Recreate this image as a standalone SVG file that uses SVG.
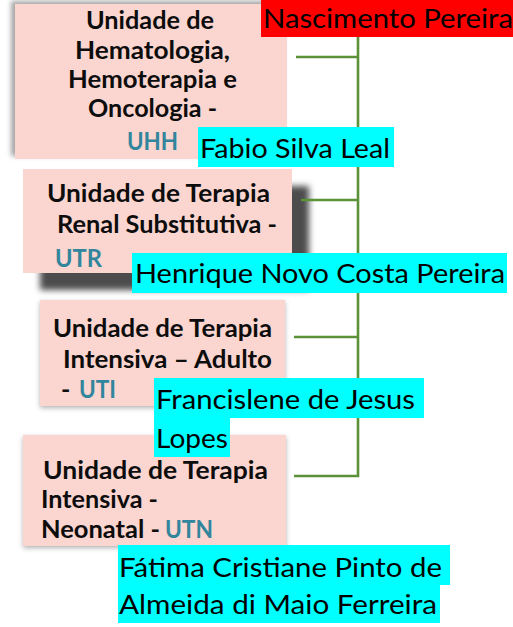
<svg xmlns="http://www.w3.org/2000/svg" width="513" height="627" viewBox="0 0 513 627">
<style>
.box{fill:#fbd5cf}
.bt{font-family:Lato,"Open Sans","Liberation Sans",sans-serif;font-weight:bold;font-size:25px;fill:#0d0d0d}
.abbr{fill:#31859c}
.lbl{font-family:Lato,"Open Sans","Liberation Sans",sans-serif;font-size:27.5px;fill:#000}
.cy{fill:#00ffff}
.conn{stroke:#5b9137;stroke-width:2.6;fill:none}
</style>
<defs>
<filter id="sh1" x="-10%" y="-10%" width="120%" height="120%"><feDropShadow dx="-4" dy="-3" stdDeviation="2.5" flood-color="#000" flood-opacity="0.35"/></filter>
<filter id="sh2" x="-10%" y="-10%" width="130%" height="140%"><feDropShadow dx="17" dy="17" stdDeviation="3" flood-color="#000" flood-opacity="0.7"/></filter>
<filter id="sh3" x="-10%" y="-10%" width="120%" height="130%"><feDropShadow dx="0" dy="2" stdDeviation="2.5" flood-color="#000" flood-opacity="0.3"/></filter>
</defs>

<g id="uhh">
<rect class="box" x="15" y="4" width="272" height="155" filter="url(#sh1)"/>
<text class="bt" x="86" y="29" textLength="128" lengthAdjust="spacingAndGlyphs">Unidade de</text>
<text class="bt" x="75" y="59" textLength="155" lengthAdjust="spacingAndGlyphs">Hematologia,</text>
<text class="bt" x="68" y="88" textLength="169" lengthAdjust="spacingAndGlyphs">Hemoterapia e</text>
<text class="bt" x="88" y="117" textLength="129" lengthAdjust="spacingAndGlyphs">Oncologia -</text>
<text class="bt abbr" x="127" y="150" textLength="51" lengthAdjust="spacingAndGlyphs">UHH</text>
</g>

<g id="utr">
<rect class="box" x="23" y="169" width="269" height="104" filter="url(#sh2)"/>
<text class="bt" x="47" y="202" textLength="223" lengthAdjust="spacingAndGlyphs">Unidade de Terapia</text>
<text class="bt" x="57" y="233" textLength="220" lengthAdjust="spacingAndGlyphs">Renal Substitutiva -</text>
<text class="bt abbr" x="55" y="267" textLength="47" lengthAdjust="spacingAndGlyphs">UTR</text>
</g>

<g id="uti">
<rect class="box" x="40" y="300" width="245" height="106" filter="url(#sh3)"/>
<text class="bt" x="53" y="337" textLength="219" lengthAdjust="spacingAndGlyphs">Unidade de Terapia</text>
<text class="bt" x="63" y="368" textLength="209" lengthAdjust="spacingAndGlyphs">Intensiva – Adulto</text>
<text class="bt" x="61" y="398">-</text>
<text class="bt abbr" x="79" y="398" textLength="37" lengthAdjust="spacingAndGlyphs">UTI</text>
</g>

<g id="utn">
<rect class="box" x="23" y="435" width="263" height="111" filter="url(#sh3)"/>
<text class="bt" x="43" y="479" textLength="225" lengthAdjust="spacingAndGlyphs">Unidade de Terapia</text>
<text class="bt" x="41" y="508" textLength="117" lengthAdjust="spacingAndGlyphs">Intensiva -</text>
<text class="bt" x="41" y="538" textLength="119" lengthAdjust="spacingAndGlyphs">Neonatal -</text>
<text class="bt abbr" x="165" y="538" textLength="48" lengthAdjust="spacingAndGlyphs">UTN</text>
</g>

<g id="connectors">
<path class="conn" d="M358 37 V476 H294"/>
<path class="conn" d="M296 57 H358"/>
<path class="conn" d="M301 200 H358"/>
<path class="conn" d="M294 337 H358"/>
</g>

<g id="label-nascimento">
<rect fill="#ff0000" x="261" y="0" width="252" height="37"/>
<text class="lbl" x="263" y="28" textLength="250" lengthAdjust="spacingAndGlyphs">Nascimento Pereira</text>
</g>
<g id="label-fabio">
<rect class="cy" x="198" y="127" width="196" height="40"/>
<text class="lbl" x="200" y="158" textLength="190" lengthAdjust="spacingAndGlyphs">Fabio Silva Leal</text>
</g>
<g id="label-henrique">
<rect class="cy" x="132" y="253" width="375" height="40"/>
<text class="lbl" x="135" y="283" textLength="370" lengthAdjust="spacingAndGlyphs">Henrique Novo Costa Pereira</text>
</g>
<g id="label-francislene">
<rect class="cy" x="154" y="378" width="270" height="40"/>
<rect class="cy" x="154" y="418" width="76" height="39"/>
<text class="lbl" x="156" y="409" textLength="259" lengthAdjust="spacingAndGlyphs">Francislene de Jesus</text>
<text class="lbl" x="156" y="448" textLength="72" lengthAdjust="spacingAndGlyphs">Lopes</text>
</g>
<g id="label-fatima">
<rect class="cy" x="118" y="545" width="332" height="40"/>
<rect class="cy" x="118" y="585" width="322" height="38"/>
<text class="lbl" x="119" y="577" textLength="323" lengthAdjust="spacingAndGlyphs">Fátima Cristiane Pinto de</text>
<text class="lbl" x="119" y="614" textLength="318" lengthAdjust="spacingAndGlyphs">Almeida di Maio Ferreira</text>
</g>
</svg>
